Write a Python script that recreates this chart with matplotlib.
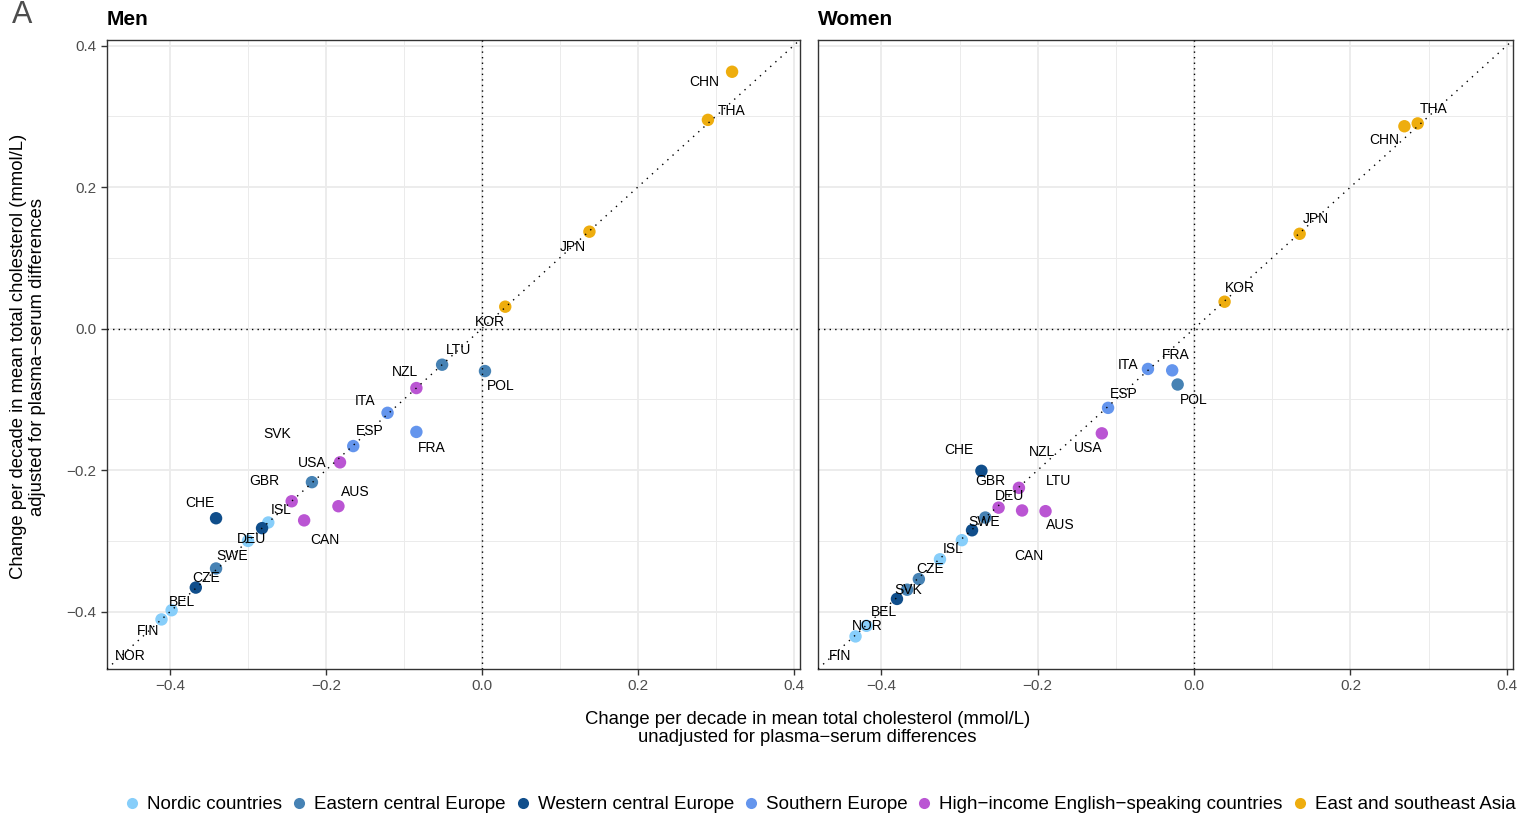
import numpy as np
import matplotlib
matplotlib.use("Agg")
import matplotlib.pyplot as plt
from matplotlib.lines import Line2D

plt.rcParams["font.family"] = ["Liberation Sans", "DejaVu Sans"]

# region names and colours
regions = [
    "Nordic countries",
    "Eastern central Europe",
    "Western central Europe",
    "Southern Europe",
    "High\u2212income English\u2212speaking countries",
    "East and southeast Asia",
]
region_colors = ["#87CEFA", "#4682B4", "#104E8B", "#6495ED", "#BA55D3", "#EEAD0E"]

# country -> region index
country_region = {
    "FIN": 0, "NOR": 0, "SWE": 0, "ISL": 0,
    "POL": 1, "LTU": 1, "CZE": 1, "SVK": 1,
    "CHE": 2, "DEU": 2, "BEL": 2,
    "ITA": 3, "FRA": 3, "ESP": 3,
    "NZL": 4, "USA": 4, "GBR": 4, "AUS": 4, "CAN": 4,
    "KOR": 5, "JPN": 5, "THA": 5, "CHN": 5,
}

# Men: unadjusted (x) vs adjusted (y)
men_country = ["LTU", "POL", "NZL", "ITA", "FRA", "ESP", "USA", "SVK", "GBR", "AUS",
               "CAN", "CHE", "ISL", "DEU", "SWE", "CZE", "BEL", "FIN", "NOR",
               "KOR", "JPN", "THA", "CHN"]
men_x = [-0.051, 0.004, -0.084, -0.121, -0.084, -0.165, -0.182, -0.218, -0.244, -0.184,
         -0.228, -0.341, -0.274, -0.282, -0.300, -0.341, -0.367, -0.398, -0.411,
         0.030, 0.138, 0.290, 0.321]
men_y = [-0.051, -0.060, -0.084, -0.119, -0.146, -0.166, -0.189, -0.217, -0.244, -0.251,
         -0.271, -0.268, -0.274, -0.282, -0.300, -0.339, -0.366, -0.398, -0.411,
         0.031, 0.137, 0.295, 0.363]

# Women
women_country = ["ITA", "FRA", "POL", "ESP", "USA", "CHE", "NZL", "GBR", "CAN", "AUS",
                 "LTU", "CZE", "SVK", "DEU", "BEL", "SWE", "ISL", "NOR", "FIN",
                 "KOR", "JPN", "CHN", "THA"]
women_x = [-0.059, -0.028, -0.021, -0.110, -0.118, -0.272, -0.224, -0.250, -0.220, -0.190,
           -0.267, -0.352, -0.367, -0.284, -0.380, -0.297, -0.325, -0.419, -0.433,
           0.039, 0.135, 0.269, 0.286]
women_y = [-0.057, -0.059, -0.079, -0.112, -0.148, -0.201, -0.225, -0.253, -0.257, -0.258,
           -0.267, -0.354, -0.369, -0.285, -0.382, -0.299, -0.326, -0.420, -0.435,
           0.038, 0.134, 0.286, 0.290]

# label positions (repelled text), data units
men_label_pos = {
    "NOR": (-0.451, -0.462), "FIN": (-0.428, -0.428), "BEL": (-0.385, -0.386),
    "CZE": (-0.354, -0.352), "SWE": (-0.321, -0.321), "DEU": (-0.296, -0.297),
    "ISL": (-0.258, -0.257), "CHE": (-0.362, -0.247), "CAN": (-0.202, -0.299),
    "AUS": (-0.163, -0.231), "GBR": (-0.279, -0.215), "USA": (-0.218, -0.190),
    "SVK": (-0.263, -0.149), "ESP": (-0.144, -0.144), "FRA": (-0.064, -0.169),
    "ITA": (-0.150, -0.103), "NZL": (-0.099, -0.062), "LTU": (-0.030, -0.030),
    "POL": (0.024, -0.081), "KOR": (0.010, 0.010), "JPN": (0.117, 0.115),
    "THA": (0.321, 0.307), "CHN": (0.285, 0.348),
}
women_label_pos = {
    "FIN": (-0.453, -0.462), "NOR": (-0.418, -0.420), "BEL": (-0.397, -0.401),
    "SVK": (-0.365, -0.369), "CZE": (-0.338, -0.340), "ISL": (-0.308, -0.312),
    "SWE": (-0.269, -0.273), "DEU": (-0.236, -0.237), "GBR": (-0.260, -0.216),
    "CHE": (-0.301, -0.171), "NZL": (-0.194, -0.174), "LTU": (-0.173, -0.216),
    "AUS": (-0.171, -0.278), "CAN": (-0.211, -0.321), "USA": (-0.135, -0.169),
    "ESP": (-0.090, -0.092), "ITA": (-0.084, -0.051), "FRA": (-0.024, -0.037),
    "POL": (0.000, -0.101), "KOR": (0.059, 0.057), "JPN": (0.156, 0.155),
    "CHN": (0.243, 0.266), "THA": (0.306, 0.311),
}

lims = (-0.481, 0.408)

fig = plt.figure(figsize=(15.21, 8.18), dpi=100)
ax_men = fig.add_axes([0.0703, 0.1822, 0.4556, 0.769])
ax_women = fig.add_axes([0.5378, 0.1822, 0.4570, 0.769])


def fmt(v, p):
    return f"{v:.1f}".replace("-", "\u2212")


def draw_panel(ax, countries, xs, ys, label_pos, title, show_y=True):
    ax.set_xlim(lims)
    ax.set_ylim(lims)
    ax.set_xticks([-0.4, -0.2, 0.0, 0.2, 0.4])
    ax.set_yticks([-0.4, -0.2, 0.0, 0.2, 0.4])
    ax.set_xticks([-0.3, -0.1, 0.1, 0.3], minor=True)
    ax.set_yticks([-0.3, -0.1, 0.1, 0.3], minor=True)
    ax.grid(which="major", color="#EBEBEB", linewidth=1.3)
    ax.grid(which="minor", color="#EBEBEB", linewidth=0.7)
    ax.set_axisbelow(True)
    ax.tick_params(which="major", direction="out", length=4, width=1.0,
                   color="#333333", labelcolor="#4D4D4D", labelsize=11)
    ax.tick_params(which="minor", length=0)
    if not show_y:
        ax.tick_params(axis="y", which="both", left=False, labelleft=False)
    for sp in ax.spines.values():
        sp.set_color("#333333")
        sp.set_linewidth(1.0)
    ax.xaxis.set_major_formatter(plt.FuncFormatter(fmt))
    ax.yaxis.set_major_formatter(plt.FuncFormatter(fmt))

    cols = [region_colors[country_region[c]] for c in countries]
    ax.scatter(xs, ys, s=80, c=cols, linewidths=0, zorder=2)

    ax.axhline(0, color="black", linestyle=(0, (1, 3)), linewidth=1.0, zorder=3)
    ax.axvline(0, color="black", linestyle=(0, (1, 3)), linewidth=1.0, zorder=3)
    ax.plot(lims, lims, color="black", linestyle=(0, (1, 4)), linewidth=1.0, zorder=3)

    for c in countries:
        lx, ly = label_pos[c]
        ax.text(lx, ly, c, fontsize=10, ha="center", va="center", color="black", zorder=4)

    ax.text(0.0, 1.018, title, transform=ax.transAxes, fontsize=15,
            fontweight="bold", ha="left", va="bottom")


draw_panel(ax_men, men_country, men_x, men_y, men_label_pos, "Men")
draw_panel(ax_women, women_country, women_x, women_y, women_label_pos, "Women",
           show_y=False)

fig.text(0.0145, 0.972, "A", fontsize=22, color="#4D4D4D", ha="center", va="baseline")

fig.text(0.531, 0.1095,
         "Change per decade in mean total cholesterol (mmol/L)\n"
         "unadjusted for plasma\u2212serum differences",
         ha="center", va="center", fontsize=13.3, linespacing=1.1)
fig.text(0.0185, 0.564,
         "Change per decade in mean total cholesterol (mmol/L)\n"
         "adjusted for plasma\u2212serum differences",
         ha="center", va="center", fontsize=13.3, rotation=90, linespacing=1.1)

handles = [Line2D([], [], marker="o", linestyle="", markersize=8,
                  markerfacecolor=col, markeredgewidth=0)
           for col in region_colors]
fig.legend(handles, regions, loc="center", bbox_to_anchor=(0.538, 0.016),
           ncol=6, frameon=False, fontsize=13.5, handletextpad=0.2,
           columnspacing=0.3, handlelength=1.2)

fig.savefig("out.png", dpi=100)
